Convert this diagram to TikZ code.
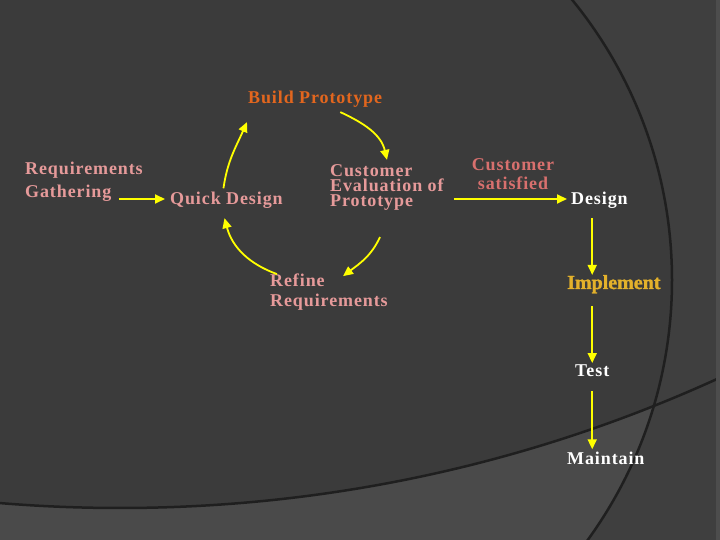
\documentclass[tikz,border=0pt]{standalone}
\usepackage{fontspec}
\setmainfont{Liberation Serif}[LetterSpace=5]
\newfontfamily\implfont{Liberation Serif}[BoldFeatures={FakeBold=1.5}]
\usetikzlibrary{arrows.meta,positioning,calc}
\definecolor{Slate}{HTML}{3B3B3B}
\definecolor{SlateLight}{HTML}{4A4A4A}
\definecolor{SlateOuter}{HTML}{3F3F3F}
\definecolor{Edge}{HTML}{4D4D4D}
\definecolor{Rim}{HTML}{1F1F1F}
\definecolor{Rose}{HTML}{E69A9A}
\definecolor{Coral}{HTML}{D8706E}
\definecolor{Rust}{HTML}{E2661E}
\definecolor{Gold}{HTML}{E3B12B}
\definecolor{Lemon}{HTML}{FFFF00}
\tikzset{
  arr/.style={-{Triangle[length=10pt,width=9pt]},line width=1.8pt,draw=Lemon},
  txt/.style={font=\fontsize{18}{20}\selectfont\bfseries,inner sep=0pt,text=Rose,anchor=base west,align=left},
  whitetxt/.style={txt,text=white},
  rusttxt/.style={txt,text=Rust},
  coraltxt/.style={txt,text=Coral,anchor=base,align=center,font=\fontsize{18}{19}\selectfont\bfseries},
  goldtxt/.style={txt,text=Gold,font=\fontsize{20}{22}\selectfont\implfont\bfseries},
  rimline/.style={draw=Rim,line width=2.5pt}
}
\begin{document}
\begin{tikzpicture}[x=1pt,y=1pt]
  \useasboundingbox (0,0) rectangle (720,540);
  \begin{scope}
    \clip (0,0) rectangle (720,540);
    \fill[SlateOuter] (0,0) rectangle (720,540);
    \begin{scope}
      \clip (229,260) circle[radius=443];
      \fill[SlateLight] (0,0) rectangle (720,540);
      \fill[Slate] (120,1474) circle[radius=1442];
    \end{scope}
    \draw[rimline] (229,260) circle[radius=443];
    \draw[rimline] (120,1474) circle[radius=1442];
    \fill[Edge] (716,0) rectangle (720,540);
  \end{scope}

  \node[rusttxt] (build) at (248,436) {Build Prototype};
  \node[txt,font=\fontsize{18}{23}\selectfont\bfseries] (req) at (25,342) {Requirements\\Gathering};
  \node[txt] (quick) at (170,335) {Quick Design};
  \node[txt,font=\fontsize{18}{15}\selectfont\bfseries] (eval) at (330,333) {Customer\\Evaluation of\\Prototype};
  \node[txt] (refine) at (270,233) {Refine\\Requirements};
  \node[coraltxt] (sat) at (513,350) {Customer\\satisfied};
  \node[whitetxt] (design) at (571,335) {Design};
  \node[goldtxt] (impl) at (567,251) {Implement};
  \node[whitetxt] (test) at (575,163) {Test};
  \node[whitetxt] (maint) at (567,75) {Maintain};

  \draw[arr] ($(req.east |- quick.base)+(-24,6)$) -- ([shift={(-5pt,6pt)}]quick.base west);
  \draw[arr] ([shift={(-3pt,4pt)}]quick.north) to[out=82,in=246] ([shift={(-1pt,-14pt)}]build.south west);
  \draw[arr] ([shift={(-42pt,-4pt)}]build.south east) to[out=-25,in=103] ([shift={(57pt,5pt)}]eval.north west);
  \draw[arr] ([shift={(50pt,-26pt)}]eval.south west) to[out=-115,in=37] ([shift={(73pt,-2pt)}]refine.north west);
  \draw[arr] ([xshift=7pt]refine.north west) to[out=160,in=-75] ([shift={(-2pt,-9pt)}]quick.south);
  \draw[arr] ($(eval.east |- design.base)+(10,6)$) -- ([shift={(-4pt,6pt)}]design.base west);
  \draw[arr] ([yshift=-9pt]test.north |- design.south) -- (test.north |- impl.north);
  \draw[arr] ([yshift=-13pt]test.north |- impl.south) -- ([yshift=2pt]test.north);
  \draw[arr] ([yshift=-14pt]test.south) -- ([yshift=3pt]test.north |- maint.north);
\end{tikzpicture}
\end{document}
